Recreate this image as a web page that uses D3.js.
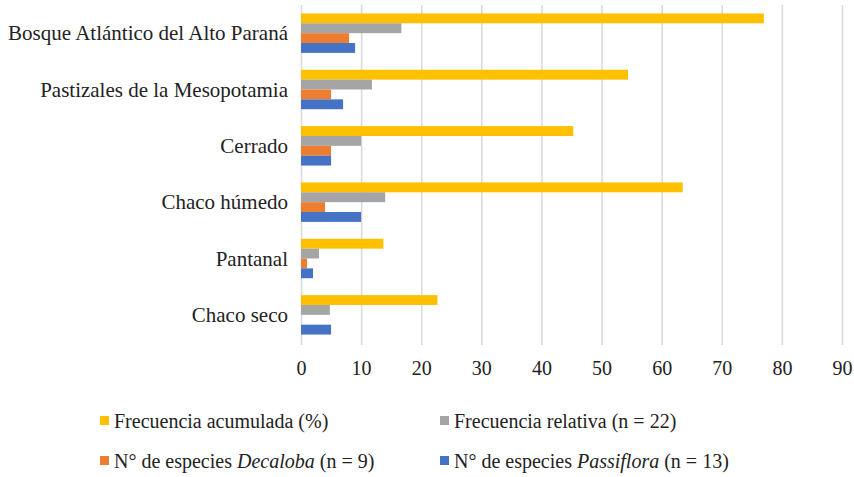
<!DOCTYPE html>
<html>
<head>
<meta charset="utf-8">
<script src="https://cdn.jsdelivr.net/npm/d3@7"></script>
<style>
  body { margin: 0; }
  .grid line { stroke: #d9d9d9; stroke-width: 1.5; }
  .grid path { display: none; }
</style>
</head>
<body>
<div class="graph"></div>
<script>
// categories, top to bottom
var regions = ["Bosque Atlántico del Alto Paraná", "Pastizales de la Mesopotamia", "Cerrado",
               "Chaco húmedo", "Pantanal", "Chaco seco"];
var acumulada  = [77.0, 54.4, 45.3, 63.5, 13.7, 22.7];
var relativa   = [16.7, 11.8, 10.0, 14.0, 3.0, 4.8];
var decaloba   = [8, 5, 5, 4, 1, 0];
var passiflora = [9, 7, 5, 10, 2, 5];
var xTicks = [0, 10, 20, 30, 40, 50, 60, 70, 80, 90];

var seriesNames = ["acumulada", "relativa", "decaloba", "passiflora"];
var colors = ["#FFC000", "#A5A5A5", "#ED7D31", "#4472C4"];

var FONT = "'Liberation Serif'";

var width = 854, height = 477;
var plot = {left: 301, right: 842, top: 5, bottom: 343};

var svg = d3.select(".graph").append("svg")
    .attr("width", width)
    .attr("height", height)
    .attr("font-family", FONT);

var xScale = d3.scaleLinear().domain([0, 90]).range([plot.left, plot.right]);
var yScale = d3.scaleBand().domain(regions).range([plot.top, plot.bottom]).paddingInner(0.3).paddingOuter(0.15);
var sScale = d3.scaleBand().domain(seriesNames).range([0, yScale.bandwidth()]);

// gridlines
var gridG = svg.append("g")
    .attr("class", "grid")
    .attr("transform", "translate(0," + (plot.bottom + 2) + ")")
    .call(d3.axisBottom(xScale).tickValues(xTicks).tickSize(-(plot.bottom + 2 - plot.top)).tickFormat(""));
gridG.attr("font-family", null);
gridG.selectAll("text").remove();

var rows = regions.map(function(r, i) {
    return {region: r, values: [acumulada[i], relativa[i], decaloba[i], passiflora[i]]};
});

var group = svg.selectAll(".region")
    .data(rows)
    .enter()
    .append("g")
    .attr("class", "region")
    .attr("transform", function(d) { return "translate(0," + yScale(d.region) + ")"; });

group.selectAll("rect")
    .data(function(d) { return d.values.map(function(v, j) { return {key: seriesNames[j], value: v, color: colors[j]}; }); })
    .enter()
    .append("rect")
    .attr("x", xScale(0))
    .attr("y", function(d) { return sScale(d.key); })
    .attr("width", function(d) { return xScale(d.value) - xScale(0); })
    .attr("height", sScale.bandwidth())
    .attr("fill", function(d) { return d.color; });

// category labels (pixel offsets instead of em-based dy)
var yAxisG = svg.append("g")
    .attr("transform", "translate(" + (plot.left - 13) + ",0)")
    .call(d3.axisLeft(yScale).tickSize(0).tickPadding(0));
yAxisG.attr("font-family", FONT).attr("font-size", null);
yAxisG.select(".domain").remove();
yAxisG.selectAll("text")
    .attr("dy", null)
    .attr("y", 7)
    .attr("font-family", FONT)
    .attr("font-size", 21)
    .attr("fill", "#222");

// x axis labels
var xAxisG = svg.append("g")
    .attr("transform", "translate(0," + (plot.bottom + 12) + ")")
    .call(d3.axisBottom(xScale).tickValues(xTicks).tickSize(0).tickPadding(6));
xAxisG.attr("font-family", FONT).attr("font-size", null);
xAxisG.select(".domain").remove();
xAxisG.selectAll("text")
    .attr("dy", null)
    .attr("y", 20)
    .attr("font-family", FONT)
    .attr("font-size", 20)
    .attr("fill", "#222");

// legend
var legend = [
    {x: 100, y: 422, color: colors[0], parts: [["Frecuencia acumulada (%)", false]]},
    {x: 440, y: 422, color: colors[1], parts: [["Frecuencia relativa (n = 22)", false]]},
    {x: 100, y: 462, color: colors[2], parts: [["N° de especies ", false], ["Decaloba", true], [" (n = 9)", false]]},
    {x: 440, y: 462, color: colors[3], parts: [["N° de especies ", false], ["Passiflora", true], [" (n = 13)", false]]}
];

var item = svg.selectAll(".legend")
    .data(legend)
    .enter()
    .append("g")
    .attr("class", "legend")
    .attr("transform", function(d) { return "translate(" + d.x + "," + d.y + ")"; });

item.append("rect")
    .attr("x", 0).attr("y", -6)
    .attr("width", 9).attr("height", 9)
    .attr("fill", function(d) { return d.color; });

item.append("text")
    .attr("x", 14)
    .attr("y", 6)
    .attr("font-family", FONT)
    .attr("font-size", 20)
    .attr("fill", "#222")
    .selectAll("tspan")
    .data(function(d) { return d.parts; })
    .enter()
    .append("tspan")
    .attr("font-style", function(p) { return p[1] ? "italic" : "normal"; })
    .text(function(p) { return p[0]; });
</script>
</body>
</html>
